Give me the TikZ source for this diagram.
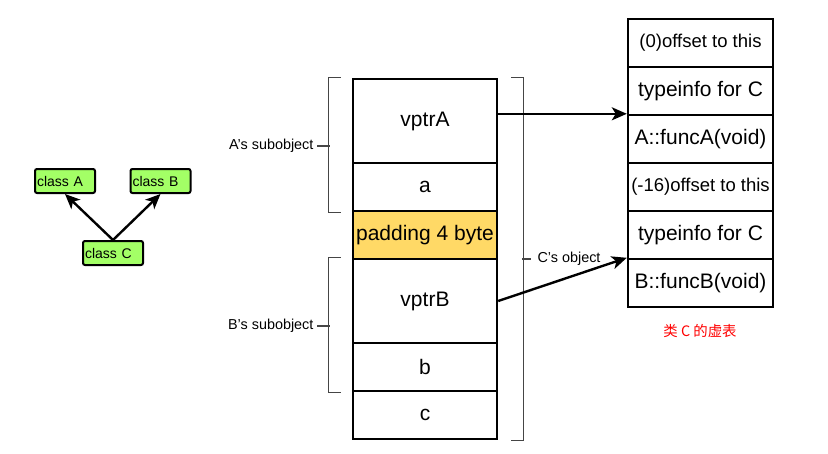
\documentclass[tikz,border=0pt]{standalone}
\usepackage{fontspec}
\setmainfont{Liberation Sans}
\newfontfamily\cjk{Noto Sans CJK SC}
\usepackage{tikz}
\usetikzlibrary{arrows.meta}
\definecolor{classgreen}{HTML}{A3FF66}
\definecolor{padyellow}{HTML}{FFD966}
\definecolor{bracketgray}{HTML}{454545}
\tikzstyle{cell} = [rectangle, minimum width=144pt, minimum height=48pt, text centered, draw=black, line width=2.4pt, inner sep=0pt, font=\fontsize{21}{25}\selectfont]
\tikzstyle{tall} = [minimum height=84pt]
\tikzstyle{vrow} = [cell, minimum width=145pt]
\tikzstyle{offs} = [font=\fontsize{18.5}{22}\selectfont]
\tikzstyle{cls} = [rectangle, rounded corners=2pt, draw=black, line width=2pt, fill=classgreen, minimum height=24pt, text width=56pt, align=left, inner sep=2pt, font=\fontsize{14}{16}\selectfont]
\tikzstyle{arrow} = [line width=2.4pt,->,>={Stealth[length=15pt,width=13pt,inset=4pt]}]
\tikzstyle{brace} = [draw=bracketgray, line width=1.3pt]
\tikzstyle{lbl} = [font=\fontsize{14.4}{17}\selectfont]

\begin{document}
\begin{tikzpicture}[x=1pt, y=-1pt]
                    \useasboundingbox (0,0) rectangle (828,453);

                    % class diagram
                    \node (clsA) [cls] at (65,181) {class A};
                    \node (clsB) [cls] at (160.5,181) {class B};
                    \node (clsC) [cls] at (113,253) {class C};
                    \draw[arrow] (clsC.north) -- (clsA.south);
                    \draw[arrow] (clsC.north) -- (clsB.south);

                    % memory layout of C
                    \node (vptrA) [cell, tall] at (425,121) {vptrA};
                    \node (a) [cell] at (425,187) {a};
                    \node (pad) [cell, fill=padyellow] at (425,235) {padding 4 byte};
                    \node (vptrB) [cell, tall] at (425,301) {vptrB};
                    \node (b) [cell] at (425,367) {b};
                    \node (c) [cell] at (425,415) {c};

                    % vtable
                    \node (t1) [vrow, offs] at (700.5,43) {(0)offset to this};
                    \node (t2) [vrow] at (700.5,91) {typeinfo for C};
                    \node (t3) [vrow] at (700.5,139) {A::funcA(void)};
                    \node (t4) [vrow, offs] at (700.5,187) {(-16)offset to this};
                    \node (t5) [vrow] at (700.5,235) {typeinfo for C};
                    \node (t6) [vrow] at (700.5,283) {B::funcB(void)};
                    \node (cap) [text=red, font=\cjk\fontsize{14.4}{17}\selectfont] at (700,331) {类 C 的虚表};

                    % brackets
                    \draw[brace] ([xshift=-11pt]vptrA.north west) -- ++(-12,0) |- ([xshift=-11pt]a.south west);
                    \draw[brace] ([xshift=-11pt]vptrB.north west) -- ++(-12,0) |- ([xshift=-11pt]b.south west);
                    \draw[brace] ([xshift=13pt]vptrA.north east) -- ++(12,0) |- ([xshift=13pt]c.south east);
                    \node (labA) [lbl, anchor=east] at (317,146) {A's subobject};
                    \node (labB) [lbl, anchor=east] at (317,326) {B's subobject};
                    \node (labC) [lbl, anchor=west] at (534,259) {C's object};
                    \draw[brace] (labA.east) -- ++(13,0);
                    \draw[brace] (labB.east) -- ++(13,0);
                    \draw[brace] (522,259) -- (531,259);

                    \draw[arrow] (vptrA.east |- t3.north) -- (t3.north west);
                    \draw[arrow] (vptrB.east) -- (t6.north west);
                \end{tikzpicture}
\end{document}
